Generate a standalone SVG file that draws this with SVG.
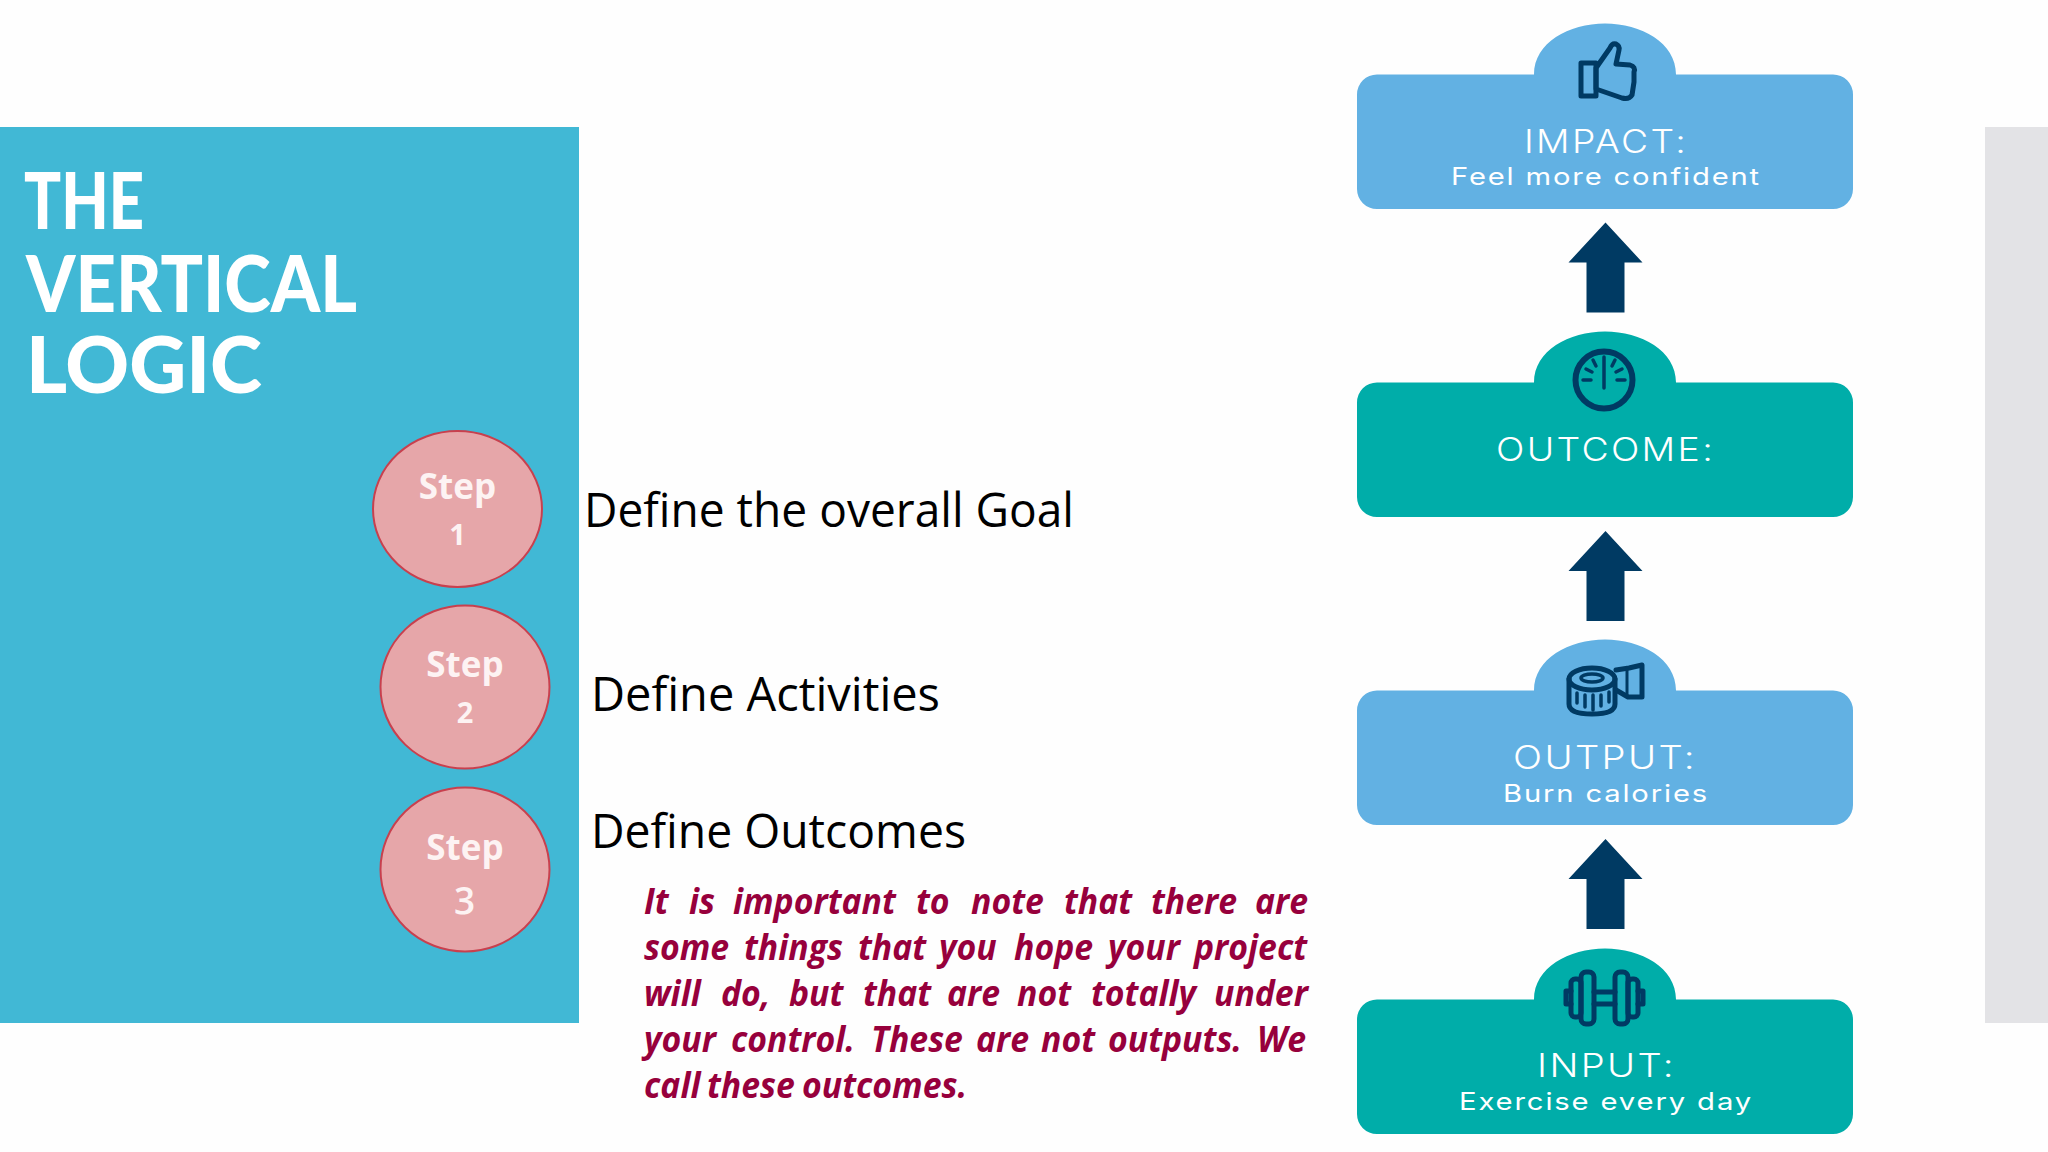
<svg xmlns="http://www.w3.org/2000/svg" width="2048" height="1152" viewBox="0 0 2048 1152">
<style>
.title{font:900 78px Lato,"Liberation Sans",sans-serif;fill:#fff}
.step{font:700 35px "Open Sans","Liberation Sans",sans-serif;fill:#fdf3f3;text-anchor:middle}
.circ{fill:#e6a6a9;stroke:#c8404e;stroke-width:2}
.def{font:400 48px "Open Sans","Liberation Sans",sans-serif;fill:#000}
.note{font:italic 700 33.800px "Open Sans","Liberation Sans",sans-serif;fill:#97003c}
.blue{fill:#62b1e3}.teal{fill:#00ada9}
.h{font:300 32px Inter,"Liberation Sans",sans-serif;letter-spacing:2px;fill:#fff}
.s{font:400 24px Inter,"Liberation Sans",sans-serif;letter-spacing:1.500px;fill:#fff}
.ic{fill:none;stroke:#003a63;stroke-width:6;stroke-linejoin:round;stroke-linecap:round}
.thin{stroke-width:3.500}
.arr{fill:#003a63}
</style>
<defs>
<path id="card" d="M-248 20A20 20 0 0 1 -228 0H-71C-71 -32 -36 -51 0 -51S71 -32 71 0H228A20 20 0 0 1 248 20V114.500A20 20 0 0 1 228 134.500H-228A20 20 0 0 1 -248 114.500Z"/>
<path id="up" d="M0 0L37 40H19V90H-19V40H-37Z"/>
</defs>
<rect width="2048" height="1152" fill="#fefefe"/>
<rect x="0" y="127" width="579" height="896" fill="#41b8d5"/>
<rect x="1985" y="127" width="63" height="896" fill="#e3e3e6"/>
<g id="title">
<text class="title" x="24" y="229" textLength="120" lengthAdjust="spacingAndGlyphs">THE</text>
<text class="title" x="26" y="312" textLength="331" lengthAdjust="spacingAndGlyphs">VERTICAL</text>
<text class="title" x="26" y="393" textLength="236" lengthAdjust="spacingAndGlyphs">LOGIC</text>
</g>
<g id="step1"><ellipse class="circ" cx="457.500" cy="509" rx="84.500" ry="78"/><text class="step" x="457.500" y="499">Step</text><text class="step" x="457.500" y="545" style="font-size:29px">1</text></g>
<g id="step2"><ellipse class="circ" cx="465" cy="687" rx="84.500" ry="81.500"/><text class="step" x="465" y="677">Step</text><text class="step" x="465" y="723" style="font-size:29px">2</text></g>
<g id="step3"><ellipse class="circ" cx="465" cy="869.500" rx="84.500" ry="82"/><text class="step" x="465" y="860">Step</text><text class="step" x="465" y="908" style="font-size:38px;font-weight:600;font-variant-numeric:oldstyle-nums">3</text></g>
<g id="goal"><text class="def" x="584" y="527" textLength="490" lengthAdjust="spacingAndGlyphs">Define the overall Goal</text></g>
<g id="activities"><text class="def" x="591" y="711" textLength="349" lengthAdjust="spacingAndGlyphs">Define Activities</text></g>
<g id="outcomes"><text class="def" x="591" y="848" textLength="375" lengthAdjust="spacingAndGlyphs">Define Outcomes</text></g>
<g id="note">
<text class="note" transform="translate(0 914) scale(1 1.080)"><tspan x="644">It </tspan><tspan x="689">is </tspan><tspan x="733">important </tspan><tspan x="916">to </tspan><tspan x="971">note </tspan><tspan x="1064">that </tspan><tspan x="1151">there </tspan><tspan x="1255">are</tspan></text>
<text class="note" transform="translate(0 960) scale(1 1.080)"><tspan x="644">some </tspan><tspan x="744">things </tspan><tspan x="858">that </tspan><tspan x="939">you </tspan><tspan x="1014">hope </tspan><tspan x="1108">your </tspan><tspan x="1194">project</tspan></text>
<text class="note" transform="translate(0 1006) scale(1 1.080)"><tspan x="644">will </tspan><tspan x="721">do, </tspan><tspan x="789">but </tspan><tspan x="863">that </tspan><tspan x="947">are </tspan><tspan x="1017">not </tspan><tspan x="1091">totally </tspan><tspan x="1214">under</tspan></text>
<text class="note" transform="translate(0 1052) scale(1 1.080)"><tspan x="644">your </tspan><tspan x="731">control. </tspan><tspan x="871">These </tspan><tspan x="976">are </tspan><tspan x="1041">not </tspan><tspan x="1108">outputs. </tspan><tspan x="1257">We</tspan></text>
<text class="note" transform="translate(0 1098) scale(1 1.080)"><tspan x="644">call </tspan><tspan x="707">these </tspan><tspan x="802">outcomes.</tspan></text>
</g>
<g id="connectors">
<use href="#up" class="arr" x="1605.500" y="222.500"/>
<use href="#up" class="arr" x="1605.500" y="531"/>
<use href="#up" class="arr" x="1605.500" y="839"/>
</g>
<g id="impact">
<use href="#card" class="blue" x="1605" y="74.500"/>
<path class="ic" style="stroke-width:5" d="M1596 68L1610 48Q1612 43 1616 44Q1620 46 1619 50L1616 64L1630 65Q1636 67 1634 72L1634 82L1632 95Q1629 100 1622 98L1596 89Z"/>
<rect class="ic" style="stroke-width:5" x="1581" y="63" width="15" height="33"/>
<text class="h" x="1524" y="153" textLength="164" lengthAdjust="spacingAndGlyphs">IMPACT:</text>
<text class="s" x="1451" y="185" textLength="310" lengthAdjust="spacingAndGlyphs">Feel more confident</text>
</g>
<g id="outcome">
<use href="#card" class="teal" x="1605" y="382.500"/>
<circle class="ic" cx="1604" cy="380" r="28.500"/>
<path class="ic thin" d="M1604 357V388M1583 380H1591M1617 380H1625M1586 369L1592 372M1622 369L1616 372M1593 360L1596 366M1615 360L1612 366"/>
<text class="h" x="1496" y="461" textLength="219" lengthAdjust="spacingAndGlyphs">OUTCOME:</text>
</g>
<g id="output">
<use href="#card" class="blue" x="1605" y="690.500"/>
<path class="ic" style="stroke-width:5" d="M1569 679V704Q1569 714 1592 714Q1615 714 1615 704V679"/>
<ellipse class="ic" style="stroke-width:5" cx="1592" cy="679" rx="23" ry="11"/>
<ellipse class="ic thin" cx="1592" cy="678" rx="11" ry="4"/>
<path class="ic" style="stroke-width:5" d="M1616 670L1629 668L1642 665V697H1628L1616 690"/>
<path class="ic" d="M1627 668V696" style="stroke-width:3"/>
<path class="ic thin" d="M1577 693V703M1585 695V707M1593 695V710M1601 695V706M1609 692V702"/>
<text class="h" x="1513" y="769" textLength="184" lengthAdjust="spacingAndGlyphs">OUTPUT:</text>
<text class="s" x="1503" y="801.500" textLength="206" lengthAdjust="spacingAndGlyphs">Burn calories</text>
</g>
<g id="input">
<use href="#card" class="teal" x="1605" y="999.500"/>
<g class="ic" style="stroke-width:5">
<rect x="1581" y="972" width="13" height="52" rx="5"/>
<rect x="1571" y="979" width="10" height="38" rx="4"/>
<path d="M1571 991H1566V1004H1571"/>
<rect x="1615" y="972" width="13" height="52" rx="5"/>
<rect x="1628" y="979" width="10" height="38" rx="4"/>
<path d="M1638 991H1643V1004H1638"/>
<path d="M1594 992H1615M1594 1004H1615"/>
</g>
<text class="h" x="1537" y="1077" textLength="139" lengthAdjust="spacingAndGlyphs">INPUT:</text>
<text class="s" x="1459" y="1110" textLength="294" lengthAdjust="spacingAndGlyphs">Exercise every day</text>
</g>
</svg>
